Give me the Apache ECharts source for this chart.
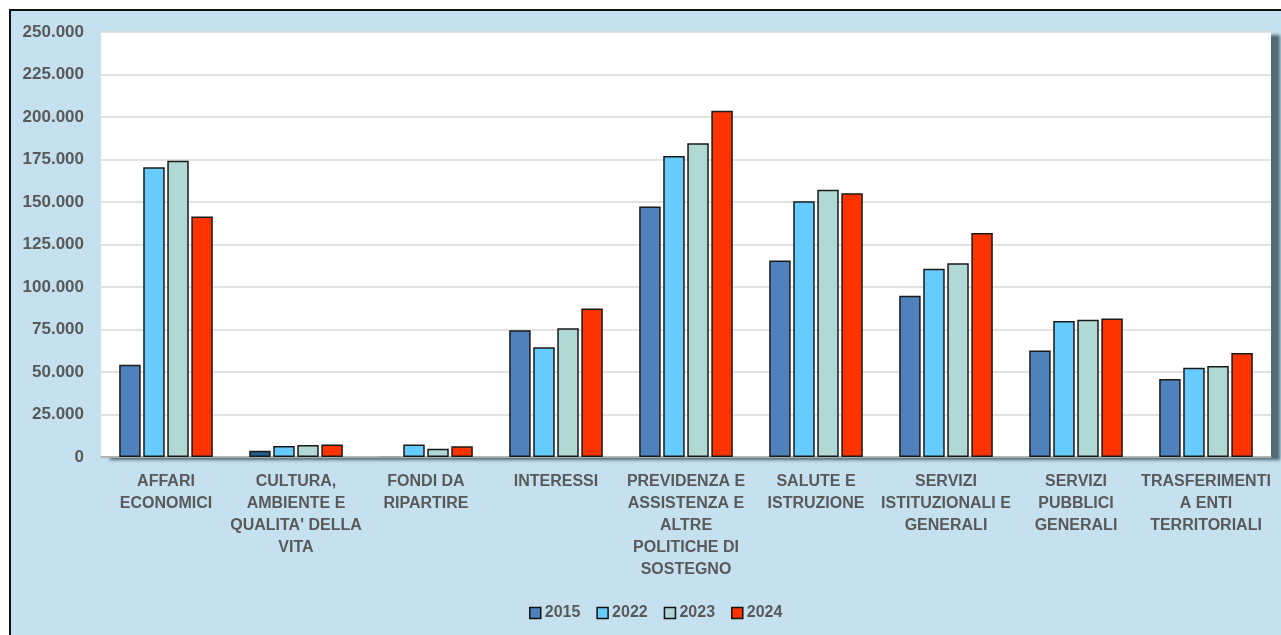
<!DOCTYPE html>
<html>
<head>
<meta charset="utf-8">
<script src="https://cdn.jsdelivr.net/npm/echarts@6/dist/echarts.min.js"></script>
<style>
  html, body { margin:0; padding:0; background:#ffffff; width:1281px; height:635px; overflow:hidden; }
  #frame { position:absolute; left:9px; top:9px; width:1290px; height:650px; background:#C5E1EF; border-left:2px solid #111; border-top:2px solid #111; box-sizing:border-box; }
  #chart { position:absolute; left:0; top:0; width:1281px; height:635px; }
</style>
</head>
<body>
<div id="frame"></div>
<div id="chart"></div>
<script>
const categories = [
  "AFFARI\nECONOMICI",
  "CULTURA,\nAMBIENTE E\nQUALITA' DELLA\nVITA",
  "FONDI DA\nRIPARTIRE",
  "INTERESSI",
  "PREVIDENZA E\nASSISTENZA E\nALTRE\nPOLITICHE DI\nSOSTEGNO",
  "SALUTE E\nISTRUZIONE",
  "SERVIZI\nISTITUZIONALI E\nGENERALI",
  "SERVIZI\nPUBBLICI\nGENERALI",
  "TRASFERIMENTI\nA ENTI\nTERRITORIALI"
];
const seriesNames = ["2015", "2022", "2023", "2024"];
const values2015 = [54300, 3700, 200, 74500, 147400, 115600, 94900, 62700, 45900];
const values2022 = [170400, 6500, 7400, 64500, 177000, 150400, 110800, 80000, 52500];
const values2023 = [174300, 7000, 4900, 75700, 184500, 157200, 113900, 80800, 53500];
const values2024 = [141500, 7400, 6300, 87400, 203700, 155100, 131800, 81500, 61200];
const yTicks = { min: 0, max: 250000, interval: 25000 };

const colors = ["#4F81BD", "#66CCFF", "#B0D8D4", "#FF3300"];
const allValues = [values2015, values2022, values2023, values2024];

function fmt(v) { return String(v).replace(/\B(?=(\d{3})+(?!\d))/g, "."); }

const series = seriesNames.map((name, i) => ({
  name: name,
  type: "bar",
  barCategoryGap: "28%",
  barGap: "12%",
  data: allValues[i].map((v, j) => {
    if (i === 0 && j === 1) return { value: v, itemStyle: { color: "#1F5F8B" } };
    if (i === 0 && j === 2) return { value: v, itemStyle: { color: "#BFBFBF", borderColor: "#A0A0A0" } };
    return v;
  }),
  itemStyle: { color: colors[i], borderColor: "#1a1a1a", borderWidth: 1.5 }
}));

const chart = echarts.init(document.getElementById("chart"), null, { renderer: "canvas" });
chart.setOption({
  animation: false,
  backgroundColor: "transparent",
  grid: {
    left: 101, right: 10, top: 32, bottom: 178,
    show: true, backgroundColor: "#ffffff", borderWidth: 0,
    shadowColor: "rgba(60,85,95,0.85)", shadowBlur: 3, shadowOffsetX: 9, shadowOffsetY: 3
  },
  legend: {
    data: seriesNames,
    bottom: 9,
    left: 524,
    itemWidth: 11, itemHeight: 11, itemGap: 16,
    icon: "rect",
    itemStyle: { borderColor: "#111", borderWidth: 1.5 },
    textStyle: { fontFamily: "Liberation Sans, Arial, sans-serif", fontWeight: "bold", fontSize: 16, color: "#595959", padding: [0, 0, 0, -1] }
  },
  xAxis: {
    type: "category",
    data: categories,
    axisLine: { show: true, lineStyle: { color: "#A6A6A6", width: 1.5 } },
    axisTick: { show: false },
    axisLabel: {
      interval: 0, margin: 14,
      fontFamily: "Liberation Sans, Arial, sans-serif", fontWeight: "bold", fontSize: 16,
      lineHeight: 22, color: "#595959"
    }
  },
  yAxis: {
    type: "value",
    min: yTicks.min, max: yTicks.max, interval: yTicks.interval,
    axisLine: { show: false },
    axisTick: { show: false },
    splitLine: { lineStyle: { color: "#D9D9D9", width: 1.5 } },
    axisLabel: {
      margin: 17,
      formatter: fmt,
      fontFamily: "Liberation Sans, Arial, sans-serif", fontWeight: "bold", fontSize: 17, color: "#595959"
    }
  },
  series: series
});
</script>
</body>
</html>
